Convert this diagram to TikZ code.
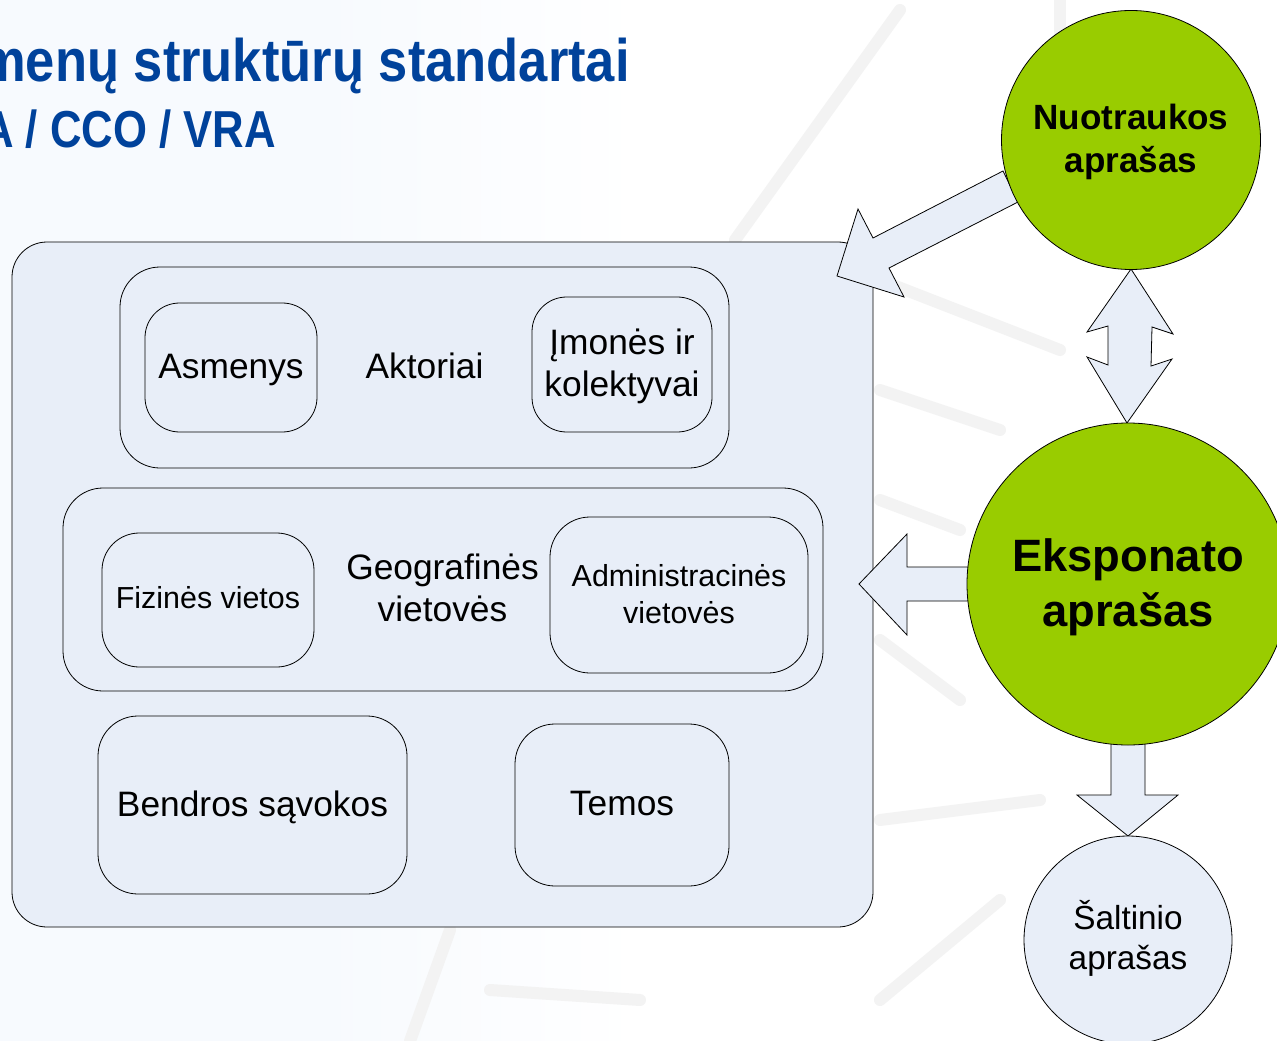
\documentclass[tikz,border=0pt]{standalone}
\usepackage{fontspec}
\setmainfont{Liberation Sans}
\newfontfamily\titlefont[FakeStretch=0.875]{Liberation Sans Bold}
\newfontfamily\subtitlefont[FakeStretch=0.84]{Liberation Sans Bold}
\definecolor{pale}{HTML}{E8EEF8}
\definecolor{limeg}{HTML}{99CC00}
\definecolor{titleb}{HTML}{00429B}
\definecolor{ghost}{HTML}{F3F3F3}
\definecolor{bluewash}{HTML}{F7FAFE}
\tikzset{
  x=0.75pt,y=-0.75pt,
  outl/.style={draw=black,line width=0.6pt,fill=pale},
  blockarrow/.style={outl,line join=miter},
  lab/.style={font=\fontsize{26.5}{31.5}\selectfont,align=center,inner sep=0pt},
  smalllab/.style={font=\fontsize{22.8}{27.5}\selectfont,align=center,inner sep=0pt},
  ttl/.style={text=titleb,anchor=base west,inner sep=0pt},
  ghostline/.style={draw=ghost,line width=9pt,line cap=round},
}
\begin{document}
\begin{tikzpicture}
\useasboundingbox (0,0) rectangle (1277,1041);
\clip (0,0) rectangle (1277,1041);
% background wash and faint ghost picture
\fill[white] (0,0) rectangle (1277,1041);
\shade[left color=bluewash,right color=white,middle color=bluewash] (0,0) rectangle (640,1041);
\draw[ghostline] (735,240) -- (900,10);
\draw[ghostline] (1060,0) -- (1060,60);
\draw[ghostline] (880,280) -- (1060,350);
\draw[ghostline] (880,390) -- (1000,430);
\draw[ghostline] (880,500) -- (960,530);
\draw[ghostline] (880,640) -- (960,700);
\draw[ghostline] (880,820) -- (1040,800);
\draw[ghostline] (410,1041) -- (450,930);
\draw[ghostline] (490,990) -- (640,1000);
\draw[ghostline] (880,1000) -- (1000,900);
% title
\node[ttl,font=\titlefont\fontsize{45}{50}\selectfont] (title1) at (-21,82) {menų struktūrų standartai};
\node[ttl,font=\subtitlefont\fontsize{39}{44}\selectfont] (title2) at (-18,148) {A / CCO / VRA};
% panel
\draw[outl,rounded corners=26.25pt] (12,242) rectangle (873,927);
\draw[outl,rounded corners=30pt] (120,267) rectangle (729,468);
\draw[outl,rounded corners=26pt] (145,303) rectangle (317,432);
\draw[outl,rounded corners=26pt] (532,297) rectangle (712,432);
\draw[outl,rounded corners=30pt] (63,488) rectangle (823,691);
\draw[outl,rounded corners=28pt] (102,533) rectangle (314,667);
\draw[outl,rounded corners=30pt] (550,517) rectangle (808,673);
\draw[outl,rounded corners=30pt] (98,716) rectangle (407,894);
\draw[outl,rounded corners=30pt] (515,724) rectangle (729,886);
\node[lab] (asm) at (231,370) {Asmenys};
\node[lab] (akt) at (424.5,366) {Aktoriai};
\node[lab] (imo) at (622,366) {Įmonės ir\\kolektyvai};
\node[lab] (geo) at (442.5,588) {Geografinės\\vietovės};
\node[smalllab] (fiz) at (208,598) {Fizinės vietos};
\node[smalllab] (adm) at (679,594) {Administracinės\\vietovės};
\node[lab] (ben) at (252.5,807) {Bendros sąvokos};
\node[lab] (tem) at (622,804) {Temos};
% block arrows
\draw[blockarrow] (1003,171) -- (873,238) -- (858,209) -- (837,276) -- (904,297) -- (889,268) -- (1018,202) -- cycle;
\draw[blockarrow] (1131,269) -- (1173,334) -- (1152,327) -- (1151,366) -- (1172,359) -- (1127,423) -- (1087,357) -- (1108,365) -- (1108,326) -- (1087,332) -- cycle;
\draw[blockarrow] (859,584) -- (907,534) -- (907,567) -- (970,567) -- (970,601) -- (907,601) -- (907,635) -- cycle;
\draw[blockarrow] (1111,742) -- (1145,742) -- (1145,795) -- (1178,795) -- (1128,836) -- (1077,795) -- (1111,795) -- cycle;
% circles
\node[circle,draw=black,line width=0.6pt,fill=limeg,minimum size=194.25pt,inner sep=0pt] (nuo) at (1131,140) {};
\node[font=\bfseries\fontsize{26.3}{32.3}\selectfont,align=center,inner sep=0pt] (nuot) at (1131,142) {Nuotraukos\\aprašas};
\node[circle,draw=black,line width=0.6pt,fill=limeg,minimum size=241.5pt,inner sep=0pt] (eks) at (1128,584) {};
\node[font=\bfseries\fontsize{34}{41}\selectfont,align=center,inner sep=0pt] (ekst) at (1128,587) {Eksponato\\aprašas};
\node[circle,outl,minimum size=156pt,inner sep=0pt] (sal) at (1128,940) {};
\node[font=\fontsize{25}{30}\selectfont,align=center,inner sep=0pt] (salt) at (1128,938) {Šaltinio\\aprašas};
\end{tikzpicture}
\end{document}
